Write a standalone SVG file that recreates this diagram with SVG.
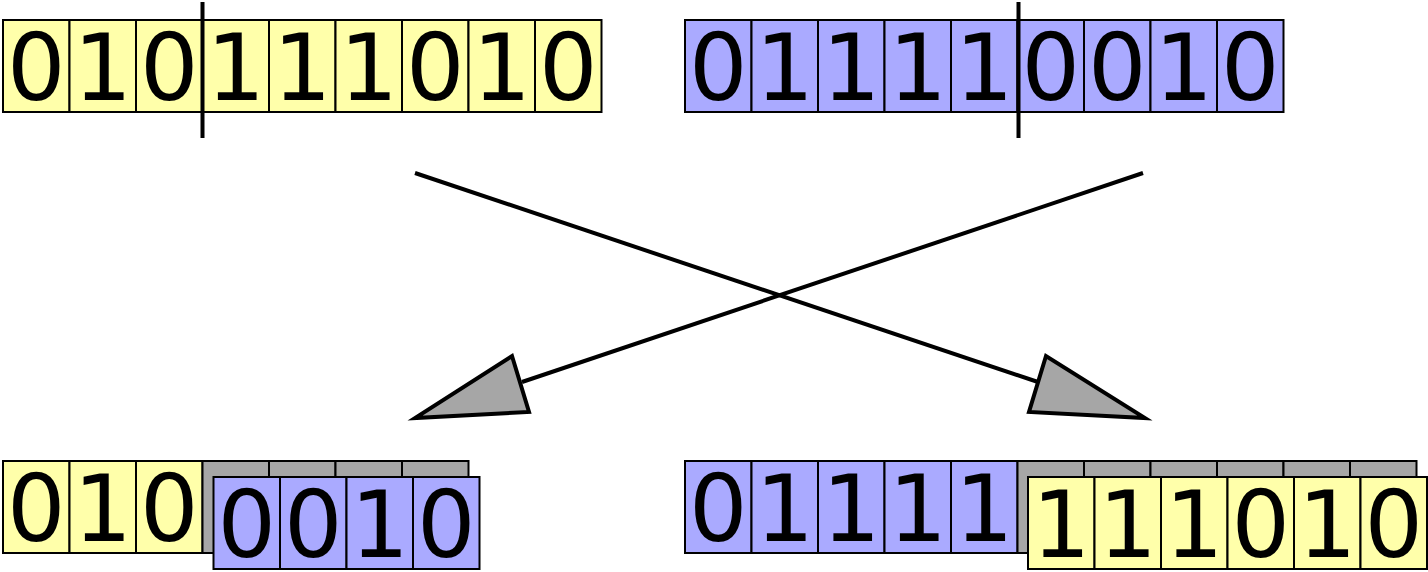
<svg xmlns="http://www.w3.org/2000/svg" width="1428" height="572" viewBox="0 0 1428 572">
<style>
.c{stroke:#000;stroke-width:2}
.y{fill:#ffffaa}
.b{fill:#aaaaff}
.g{fill:#a6a6a6}
text{font-family:"DejaVu Sans",sans-serif;font-size:92px;text-anchor:middle;fill:#000}
.d{stroke:#000;stroke-width:4}
.ln{stroke:#000;stroke-width:4;fill:none}
.ah{fill:#a6a6a6;stroke:#000;stroke-width:4;stroke-linejoin:miter}
</style>
<rect width="1428" height="572" fill="#fff"/>
<g id="parent1">
<rect class="c y" x="3" y="20" width="66.5" height="92"/>
<rect class="c y" x="69.5" y="20" width="66.5" height="92"/>
<rect class="c y" x="136" y="20" width="66.5" height="92"/>
<rect class="c y" x="202.5" y="20" width="66.5" height="92"/>
<rect class="c y" x="269" y="20" width="66.5" height="92"/>
<rect class="c y" x="335.5" y="20" width="66.5" height="92"/>
<rect class="c y" x="402" y="20" width="66.5" height="92"/>
<rect class="c y" x="468.5" y="20" width="66.5" height="92"/>
<rect class="c y" x="535" y="20" width="66.5" height="92"/>
<text x="36.25" y="100">0</text>
<text x="102.75" y="100">1</text>
<text x="169.25" y="100">0</text>
<text x="235.75" y="100">1</text>
<text x="302.25" y="100">1</text>
<text x="368.75" y="100">1</text>
<text x="435.25" y="100">0</text>
<text x="501.75" y="100">1</text>
<text x="568.25" y="100">0</text>
<line class="d" x1="202.5" y1="2" x2="202.5" y2="138"/>
</g>
<g id="parent2">
<rect class="c b" x="685" y="20" width="66.5" height="92"/>
<rect class="c b" x="751.5" y="20" width="66.5" height="92"/>
<rect class="c b" x="818" y="20" width="66.5" height="92"/>
<rect class="c b" x="884.5" y="20" width="66.5" height="92"/>
<rect class="c b" x="951" y="20" width="66.5" height="92"/>
<rect class="c b" x="1017.5" y="20" width="66.5" height="92"/>
<rect class="c b" x="1084" y="20" width="66.5" height="92"/>
<rect class="c b" x="1150.5" y="20" width="66.5" height="92"/>
<rect class="c b" x="1217" y="20" width="66.5" height="92"/>
<text x="718.25" y="100">0</text>
<text x="784.75" y="100">1</text>
<text x="851.25" y="100">1</text>
<text x="917.75" y="100">1</text>
<text x="984.25" y="100">1</text>
<text x="1050.75" y="100">0</text>
<text x="1117.25" y="100">0</text>
<text x="1183.75" y="100">1</text>
<text x="1250.25" y="100">0</text>
<line class="d" x1="1018.5" y1="2" x2="1018.5" y2="138"/>
</g>
<g id="connectors">
<line class="ln" x1="415" y1="173" x2="1038" y2="382"/>
<polygon class="ah" points="1046,356 1029,412 1145,418"/>
<line class="ln" x1="1143" y1="173" x2="522" y2="382"/>
<polygon class="ah" points="512,356 529,412 415,418"/>
</g>
<g id="child1">
<rect class="c y" x="3" y="461" width="66.5" height="92"/>
<rect class="c y" x="69.5" y="461" width="66.5" height="92"/>
<rect class="c y" x="136" y="461" width="66.5" height="92"/>
<rect class="c g" x="202.5" y="461" width="66.5" height="92"/>
<rect class="c g" x="269" y="461" width="66.5" height="92"/>
<rect class="c g" x="335.5" y="461" width="66.5" height="92"/>
<rect class="c g" x="402" y="461" width="66.5" height="92"/>
<text x="36.25" y="541">0</text>
<text x="102.75" y="541">1</text>
<text x="169.25" y="541">0</text>
<rect class="c b" x="213.5" y="477" width="66.5" height="92"/>
<rect class="c b" x="280" y="477" width="66.5" height="92"/>
<rect class="c b" x="346.5" y="477" width="66.5" height="92"/>
<rect class="c b" x="413" y="477" width="66.5" height="92"/>
<text x="246.75" y="557">0</text>
<text x="313.25" y="557">0</text>
<text x="379.75" y="557">1</text>
<text x="446.25" y="557">0</text>
</g>
<g id="child2">
<rect class="c b" x="685" y="461" width="66.5" height="92"/>
<rect class="c b" x="751.5" y="461" width="66.5" height="92"/>
<rect class="c b" x="818" y="461" width="66.5" height="92"/>
<rect class="c b" x="884.5" y="461" width="66.5" height="92"/>
<rect class="c b" x="951" y="461" width="66.5" height="92"/>
<rect class="c g" x="1017.5" y="461" width="66.5" height="92"/>
<rect class="c g" x="1084" y="461" width="66.5" height="92"/>
<rect class="c g" x="1150.5" y="461" width="66.5" height="92"/>
<rect class="c g" x="1217" y="461" width="66.5" height="92"/>
<rect class="c g" x="1283.5" y="461" width="66.5" height="92"/>
<rect class="c g" x="1350" y="461" width="66.5" height="92"/>
<text x="718.25" y="541">0</text>
<text x="784.75" y="541">1</text>
<text x="851.25" y="541">1</text>
<text x="917.75" y="541">1</text>
<text x="984.25" y="541">1</text>
<rect class="c y" x="1028" y="477" width="66.5" height="92"/>
<rect class="c y" x="1094.5" y="477" width="66.5" height="92"/>
<rect class="c y" x="1161" y="477" width="66.5" height="92"/>
<rect class="c y" x="1227.5" y="477" width="66.5" height="92"/>
<rect class="c y" x="1294" y="477" width="66.5" height="92"/>
<rect class="c y" x="1360.5" y="477" width="66.5" height="92"/>
<text x="1061.25" y="557">1</text>
<text x="1127.75" y="557">1</text>
<text x="1194.25" y="557">1</text>
<text x="1260.75" y="557">0</text>
<text x="1327.25" y="557">1</text>
<text x="1393.75" y="557">0</text>
</g>
</svg>
